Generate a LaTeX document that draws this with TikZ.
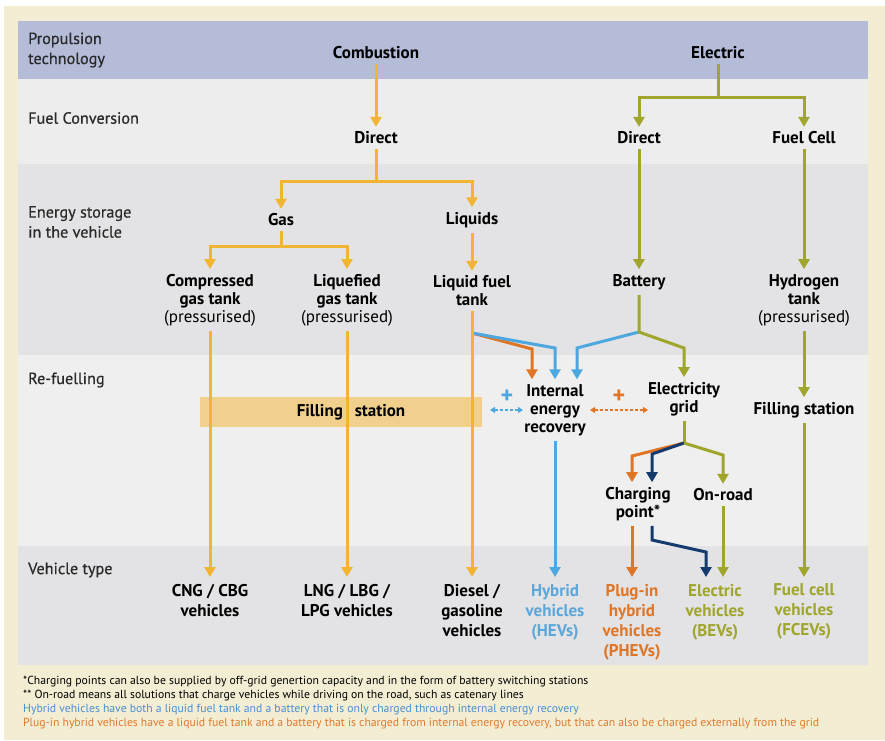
\documentclass[tikz,border=0pt]{standalone}
\usepackage{fontspec}
\setmainfont{PT Sans}
\newfontface\sidefont{PT Sans}[FakeBold=0.6]
\usetikzlibrary{arrows.meta,calc}
\definecolor{beige}{HTML}{F2EDD3}
\definecolor{lav}{HTML}{B4BCD8}
\definecolor{bandA}{HTML}{EDEDED}
\definecolor{bandB}{HTML}{E3E3E5}
\definecolor{bandC}{HTML}{EFEFEF}
\definecolor{cyel}{HTML}{F2B531}
\definecolor{coli}{HTML}{A0A52B}
\definecolor{cblu}{HTML}{4CA8DE}
\definecolor{cora}{HTML}{E07525}
\definecolor{cnav}{HTML}{143A6E}
\definecolor{tblu}{HTML}{5BA6DB}
\definecolor{nblu}{HTML}{4A8FD2}
\definecolor{nora}{HTML}{E07A2E}
\definecolor{fsfill}{HTML}{F1D08E}
\definecolor{sidetext}{HTML}{2A2A2A}
\begin{document}
\begin{tikzpicture}[x=1pt,y=-1pt,
 lbl/.style={font=\bfseries\fontsize{17}{18}\selectfont,align=center,inner sep=0pt,outer sep=5pt,text=black},
 sidelbl/.style={font=\sidefont\fontsize{16.2}{20}\selectfont,align=left,anchor=west,inner sep=0pt,text=sidetext},
 veh/.style={font=\bfseries\fontsize{17}{20}\selectfont,align=center,anchor=north,inner sep=0pt,outer sep=7pt,text=black},
 ln/.style={line width=3pt},
 ar/.style={line width=3pt,-{Triangle[width=11pt,length=10pt]}},
 dasharrow/.style={line width=1.4pt,dash pattern=on 3pt off 2pt,{Triangle[width=6pt,length=5pt]}-{Triangle[width=6pt,length=5pt]}},
 plus/.style={font=\bfseries\fontsize{24}{24}\selectfont,inner sep=0pt},
 note/.style={font=\fontsize{11.7}{14}\selectfont,anchor=west,inner sep=0pt,text=black}
]
\useasboundingbox (0,0) rectangle (885,740);
\fill[white] (0,0) rectangle (885,740);
\fill[beige] (4,6) rectangle (885,740);
\fill[lav] (18,21) rectangle (868,79);
\fill[bandA] (18,79) rectangle (868,164);
\fill[bandB] (18,164) rectangle (868,355);
\fill[bandC] (18,355) rectangle (868,546);
\fill[bandB] (18,546) rectangle (868,665);
\node[fill=fsfill,minimum width=282pt,minimum height=30pt,inner sep=0pt] (fsbox) at (341,412) {};

% side labels
\node[sidelbl] (s1) at (28,50) {Propulsion\\technology};
\node[sidelbl] (s2) at (28,118) {Fuel Conversion};
\node[sidelbl] (s3) at (28,222) {Energy storage\\in the vehicle};
\node[sidelbl] (s4) at (28,380) {Re-fuelling};
\node[sidelbl] (s5) at (28,570) {Vehicle type};

% main labels
\node[lbl] (comb) at (376,53) {Combustion};
\node[lbl] (elec) at (718,53) {Electric};
\node[lbl] (dirc) at (376,138) {Direct};
\node[lbl] (dire) at (639,138) {Direct};
\node[lbl] (fcel) at (804,138) {Fuel Cell};
\node[lbl] (gas) at (281,220) {Gas};
\node[lbl] (liq) at (472,220) {Liquids};
\node[lbl] (cgt) at (210,300) {Compressed\\gas tank\\{\mdseries(pressurised)}};
\node[lbl] (lgt) at (347,300) {Liquefied\\gas tank\\{\mdseries(pressurised)}};
\node[lbl] (lft) at (472,291) {Liquid fuel\\tank};
\node[lbl] (batt) at (639,282) {Battery};
\node[lbl] (h2) at (804,300) {Hydrogen\\tank\\{\mdseries(pressurised)}};
\node[lbl] (ier) at (555,410) {Internal\\energy\\recovery};
\node[lbl] (grid) at (684,399) {Electricity\\grid};
\node[lbl] (fs2) at (804,410) {Filling station};
\node[lbl] (cp) at (638,504) {Charging\\point*};
\node[lbl] (onr) at (723,495) {On-road};

% vehicle labels
\node[veh] (cng) at (210,577) {CNG / CBG\\vehicles};
\node[veh] (lng) at (347,577) {LNG / LBG /\\LPG vehicles};
\node[veh] (dsl) at (472,577) {Diesel /\\gasoline\\vehicles};
\node[veh,text=tblu] (hev) at (555,577) {Hybrid\\vehicles\\(HEVs)};
\node[veh,text=cora] (phev) at (632,577) {Plug-in\\hybrid\\vehicles\\(PHEVs)};
\node[veh,text=coli] (bev) at (715,577) {Electric\\vehicles\\(BEVs)};
\node[veh,text=coli] (fcev) at (804,577) {Fuel cell\\vehicles\\(FCEVs)};

% coordinates
\coordinate (j1) at (376,181);
\coordinate (j2) at (281,246);
\coordinate (j3) at (718,97);
\coordinate (j4) at (639,332);
\coordinate (j5) at (472,333);
\coordinate (j6) at (684,443);
\coordinate (g1) at (684,348);
\coordinate (b1) at (577,348);
\coordinate (b2) at (555,348);
\coordinate (o1) at (532,349);
\coordinate (o2) at (632,456);
\coordinate (n0) at (652,454);
\coordinate (n1) at (652,540);
\coordinate (n2) at (706,552);
\coordinate (v1) at (723,455);
\coordinate (d1) at (490,410);
\coordinate (d2) at (523,410);
\coordinate (d3) at (590,410);
\coordinate (d4) at (648,410);

% hybrid feeds
\draw[ar,cora] (j5) -- (o1) -- (o1 |- ier.north);
\draw[ar,cblu] (j5) -- (b2) -- (ier.north);
\draw[ar,cblu] (j4) -- (b1) -- (b1 |- ier.north);
\draw[ar,coli] (batt.south) -- (j4) -- (g1) -- (grid.north);

% combustion
\draw[ar,cyel] (comb.south) -- (dirc.north);
\draw[ln,cyel] (dirc.south) -- (j1);
\draw[ar,cyel] (j1) -| (gas.north);
\draw[ar,cyel] (j1) -| (liq.north);
\draw[ln,cyel] (gas.south) -- (j2);
\draw[ar,cyel] (j2) -| (cgt.north);
\draw[ar,cyel] (j2) -| (lgt.north);
\draw[ar,cyel] (liq.south) -- (lft.north);
\draw[ar,cyel] (cgt.south) -- (cng.north);
\draw[ar,cyel] (lgt.south) -- (lng.north);
\draw[ar,cyel] (lft.south) -- (dsl.north);

% electric
\draw[ln,coli] (elec.south) -- (j3);
\draw[ar,coli] (j3) -| (dire.north);
\draw[ar,coli] (j3) -| (fcel.north);
\draw[ar,coli] (dire.south) -- (batt.north);
\draw[ar,coli] (fcel.south) -- (h2.north);
\draw[ar,coli] (h2.south) -- (fs2.north);
\draw[ar,coli] (fs2.south) -- (fcev.north);

% grid
\draw[ln,coli] (grid.south) -- (j6);
\draw[ar,cora] (j6) -- (o2) -- (o2 |- cp.north);
\draw[ar,cnav] (j6) -- (n0) -- (n0 |- cp.north);
\draw[ar,coli] (j6) -- (v1) -- (onr.north);
\draw[ar,cblu] (ier.south) -- (hev.north);
\draw[ar,cora] (phev.north |- cp.south) -- (phev.north);
\draw[ar,cnav] (n1 |- cp.south) -- (n1) -- (n2) -- (n2 |- bev.north);
\draw[ar,coli] (onr.south) -- (onr.south |- bev.north);

% dashed exchange arrows
\draw[dasharrow,cblu] (d1) -- (d2);
\draw[dasharrow,cora] (d3) -- (d4);
\node[plus,text=cblu] (p1) at (507,397) {+};
\node[plus,text=cora] (p2) at (619,397) {+};

\node[lbl] (fs1) at (351,412) {Filling\hspace{0.7em}station};

% footnotes
\node[note] (f1) at (23,682) {*Charging points can also be supplied by off-grid genertion capacity and in the form of battery switching stations};
\node[note] (f2) at (23,696) {** On-road means all solutions that charge vehicles while driving on the road, such as catenary lines};
\node[note,text=nblu] (f3) at (23,710) {Hybrid vehicles have both a liquid fuel tank and a battery that is only charged through internal energy recovery};
\node[note,text=nora] (f4) at (23,724) {Plug-in hybrid vehicles have a liquid fuel tank and a battery that is charged from internal energy recovery, but that can also be charged externally from the grid};
\end{tikzpicture}
\end{document}
